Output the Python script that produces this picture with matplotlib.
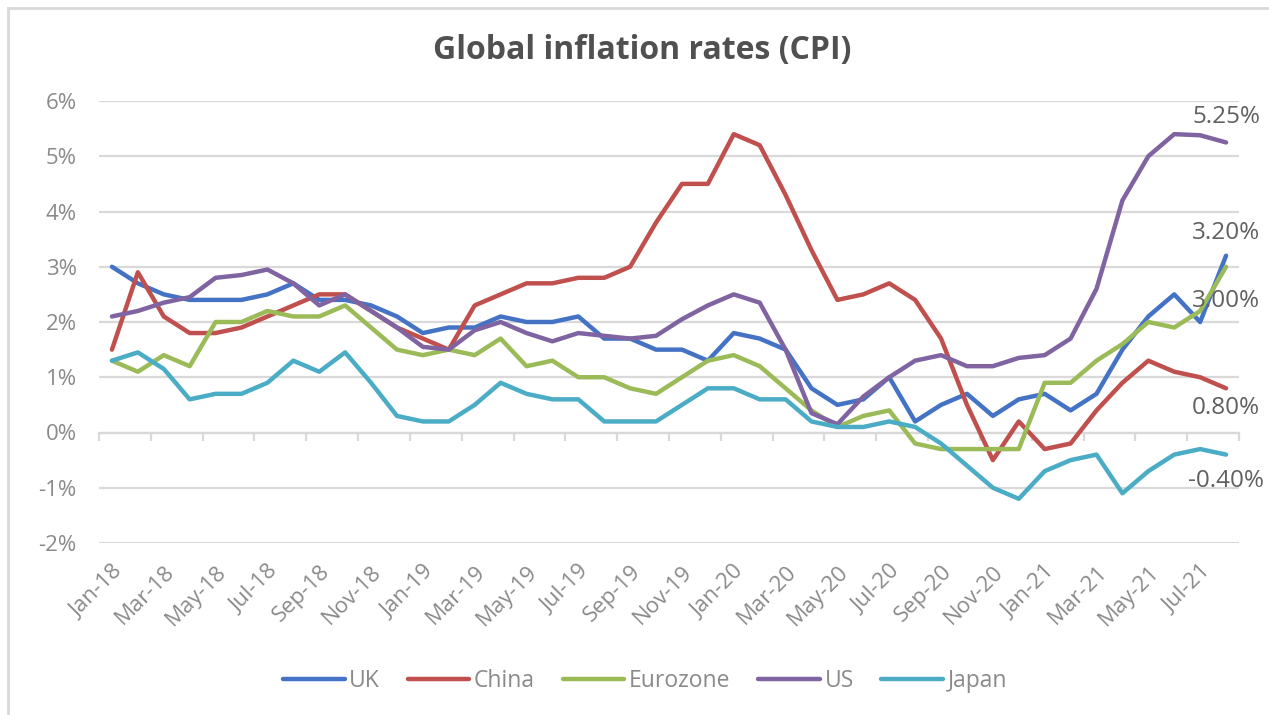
import numpy as np
import matplotlib
matplotlib.use("Agg")
import matplotlib.pyplot as plt
from matplotlib.lines import Line2D

months = ["Jan-18","Feb-18","Mar-18","Apr-18","May-18","Jun-18","Jul-18","Aug-18","Sep-18","Oct-18","Nov-18","Dec-18",
          "Jan-19","Feb-19","Mar-19","Apr-19","May-19","Jun-19","Jul-19","Aug-19","Sep-19","Oct-19","Nov-19","Dec-19",
          "Jan-20","Feb-20","Mar-20","Apr-20","May-20","Jun-20","Jul-20","Aug-20","Sep-20","Oct-20","Nov-20","Dec-20",
          "Jan-21","Feb-21","Mar-21","Apr-21","May-21","Jun-21","Jul-21","Aug-21"]

uk = [3.0,2.7,2.5,2.4,2.4,2.4,2.5,2.7,2.4,2.4,2.3,2.1,
      1.8,1.9,1.9,2.1,2.0,2.0,2.1,1.7,1.7,1.5,1.5,1.3,
      1.8,1.7,1.5,0.8,0.5,0.6,1.0,0.2,0.5,0.7,0.3,0.6,
      0.7,0.4,0.7,1.5,2.1,2.5,2.0,3.2]
china = [1.5,2.9,2.1,1.8,1.8,1.9,2.1,2.3,2.5,2.5,2.2,1.9,
         1.7,1.5,2.3,2.5,2.7,2.7,2.8,2.8,3.0,3.8,4.5,4.5,
         5.4,5.2,4.3,3.3,2.4,2.5,2.7,2.4,1.7,0.5,-0.5,0.2,
         -0.3,-0.2,0.4,0.9,1.3,1.1,1.0,0.8]
eurozone = [1.3,1.1,1.4,1.2,2.0,2.0,2.2,2.1,2.1,2.3,1.9,1.5,
            1.4,1.5,1.4,1.7,1.2,1.3,1.0,1.0,0.8,0.7,1.0,1.3,
            1.4,1.2,0.8,0.4,0.1,0.3,0.4,-0.2,-0.3,-0.3,-0.3,-0.3,
            0.9,0.9,1.3,1.6,2.0,1.9,2.2,3.0]
us = [2.1,2.2,2.35,2.45,2.8,2.85,2.95,2.7,2.3,2.5,2.2,1.9,
      1.55,1.5,1.85,2.0,1.8,1.65,1.8,1.75,1.7,1.75,2.05,2.3,
      2.5,2.35,1.5,0.35,0.15,0.65,1.0,1.3,1.4,1.2,1.2,1.35,
      1.4,1.7,2.6,4.2,5.0,5.4,5.38,5.25]
japan = [1.3,1.45,1.15,0.6,0.7,0.7,0.9,1.3,1.1,1.45,0.9,0.3,
         0.2,0.2,0.5,0.9,0.7,0.6,0.6,0.2,0.2,0.2,0.5,0.8,
         0.8,0.6,0.6,0.2,0.1,0.1,0.2,0.1,-0.2,-0.6,-1.0,-1.2,
         -0.7,-0.5,-0.4,-1.1,-0.7,-0.4,-0.3,-0.4]

series_names = ["UK", "China", "Eurozone", "US", "Japan"]
series_values = [uk, china, eurozone, us, japan]
colors = ["#4472C4", "#C0504D", "#9BBB59", "#8064A2", "#4BACC6"]

end_labels = ["3.20%", "0.80%", "3.00%", "5.25%", "-0.40%"]
end_offsets_px = [-23, 20, 34, -25, 26]  # vertical offsets of end labels (pixels, + = down)

yticks = [-2, -1, 0, 1, 2, 3, 4, 5, 6]
ytick_labels = ["-2%", "-1%", "0%", "1%", "2%", "3%", "4%", "5%", "6%"]

W, H = 1269, 715
fig = plt.figure(figsize=(W/100, H/100), dpi=100)
fam = ["Open Sans", "DejaVu Sans"]
plt.rcParams['font.family'] = fam

ax = fig.add_axes([99/W, 1-543/H, (1239-99)/W, (543-101)/H])
x = np.arange(len(months))

grid_c = "#d9d9d9"
ax.set_ylim(-2, 6)
ax.set_xlim(-0.5, len(months)-0.5)
ax.set_yticks(yticks)
ax.set_yticklabels(ytick_labels)
ax.yaxis.grid(True, color=grid_c, lw=1.6)
ax.set_axisbelow(True)
for s in ax.spines.values():
    s.set_visible(False)
ax.tick_params(axis='y', length=0, pad=16, labelsize=16, labelcolor="#8a8a8a")

ax.set_xticks(x[::2])
ax.set_xticklabels(months[::2], rotation=45, ha='right', va='top', rotation_mode='anchor')
ax.tick_params(axis='x', length=0, pad=13, labelsize=16, labelcolor="#8a8a8a")

# category axis at 0%
sec = ax.secondary_xaxis(0.25)
sec.spines['bottom'].set_color(grid_c)
sec.spines['bottom'].set_linewidth(1.6)
sec.set_xticks(np.arange(-0.5, len(months), 2))
sec.set_xticklabels([])
sec.tick_params(axis='x', length=6, width=1.6, color=grid_c, direction='out')

lines = []
for name, vals, c in zip(series_names, series_values, colors):
    ln, = ax.plot(x, vals, color=c, lw=3.2, solid_joinstyle='round', solid_capstyle='round', label=name)
    lines.append(ln)

for vals, lab, off in zip(series_values, end_labels, end_offsets_px):
    ax.annotate(lab, xy=(x[-1], vals[-1]), xytext=(0, -off*0.72), textcoords='offset points',
                ha='center', va='center', fontsize=17.5, color="#606060", annotation_clip=False)

fig.text(642/W, 1-50/H, "Global inflation rates (CPI)", ha='center', va='center',
         fontsize=23, fontweight='bold', color="#505050")

leg = fig.legend(handles=lines, labels=series_names, loc='center', bbox_to_anchor=(645/W, 1-681/H),
                 ncol=5, frameon=False, fontsize=16.5, handlelength=2.7, handletextpad=0.2,
                 columnspacing=1.2, labelcolor="#8a8a8a")

# outer frame (top and left visible)
fig.add_artist(Line2D([8/W, 8/W], [0, 1-8/H], transform=fig.transFigure, color="#d9d9d9", lw=2))
fig.add_artist(Line2D([8/W, 1], [1-8/H, 1-8/H], transform=fig.transFigure, color="#d9d9d9", lw=2))

fig.savefig("out.png", dpi=100)
